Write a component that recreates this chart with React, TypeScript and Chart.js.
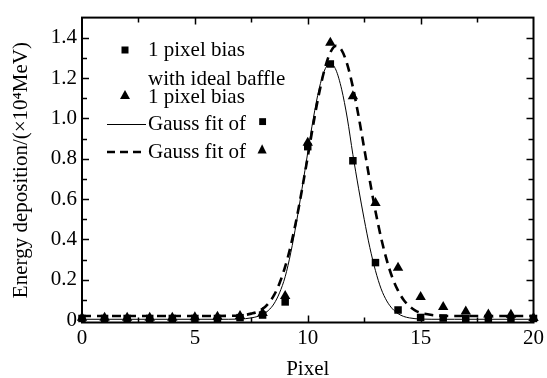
import React, { useEffect, useRef } from "react";
import { Chart, registerables } from "chart.js";

Chart.register(...registerables);

// ---- data ----
const pixels = [0, 1, 2, 3, 4, 5, 6, 7, 8, 9, 10, 11, 12, 13, 14, 15, 16, 17, 18, 19, 20];
const squareValues = [0.008, 0.008, 0.008, 0.008, 0.008, 0.008, 0.008, 0.012, 0.025, 0.09, 0.86, 1.27, 0.79, 0.285, 0.05, 0.013, 0.01, 0.008, 0.006, 0.006, 0.008];
const triangleValues = [0.012, 0.012, 0.012, 0.012, 0.012, 0.014, 0.016, 0.02, 0.035, 0.12, 0.88, 1.375, 1.11, 0.58, 0.26, 0.115, 0.065, 0.042, 0.028, 0.026, 0.01];

const fitX = [0, 6, 6.5, 7, 7.25, 7.5, 7.75, 8, 8.25, 8.5, 8.75, 9, 9.25, 9.5, 9.75, 10, 10.25, 10.5, 10.75, 11, 11.25, 11.5, 11.75, 12, 12.25, 12.5, 12.75, 13, 13.25, 13.5, 13.75, 14, 14.25, 14.5, 14.75, 15, 15.5, 16, 16.5, 20];
const fitSquare = [0.004, 0.004, 0.004, 0.005, 0.007, 0.011, 0.017, 0.027, 0.047, 0.08, 0.135, 0.215, 0.335, 0.485, 0.654, 0.831, 1.002, 1.145, 1.24, 1.274, 1.24, 1.145, 1.002, 0.82, 0.654, 0.5, 0.36, 0.245, 0.155, 0.095, 0.056, 0.032, 0.018, 0.011, 0.007, 0.005, 0.004, 0.004, 0.004, 0.004];
const fitTriangle = [0.02, 0.02, 0.021, 0.023, 0.026, 0.032, 0.04, 0.056, 0.082, 0.122, 0.183, 0.265, 0.37, 0.5, 0.65, 0.81, 0.974, 1.123, 1.245, 1.327, 1.36, 1.339, 1.268, 1.155, 1.012, 0.852, 0.691, 0.54, 0.407, 0.297, 0.21, 0.146, 0.1, 0.069, 0.048, 0.036, 0.025, 0.021, 0.02, 0.02];

const xTicks = [0, 5, 10, 15, 20];
const xMinorTicks = [2.5, 7.5, 12.5, 17.5];
const yTicks = [0, 0.2, 0.4, 0.6, 0.8, 1.0, 1.2, 1.4];
const yMinorTicks = [0.1, 0.3, 0.5, 0.7, 0.9, 1.1, 1.3];

const xTitle = "Pixel";
const yTitle = "Energy deposition/(×10⁴MeV)";
const legendSquareLines = ["1 pixel bias", "with ideal baffle"];
const legendTriangle = "1 pixel bias";
const legendFitText = "Gauss fit of";
const legendSquareSymbol = "■";
const legendTriangleSymbol = "▲";

const FONT = '"Liberation Serif", "Times New Roman", serif';

const framePlugin = {
  id: "frameTicks",
  beforeDatasetsDraw(chart: any) {
    const { ctx, chartArea, scales } = chart;
    const { left, right, top, bottom } = chartArea;
    ctx.save();
    ctx.strokeStyle = "#000";
    ctx.lineWidth = 2;
    ctx.strokeRect(left, top, right - left, bottom - top);
    ctx.lineWidth = 1.5;
    const drawX = (vals: number[], len: number) => {
      vals.forEach((v) => {
        const px = Math.round(scales.x.getPixelForValue(v)) + 0.5;
        ctx.beginPath();
        ctx.moveTo(px, bottom);
        ctx.lineTo(px, bottom - len);
        ctx.moveTo(px, top);
        ctx.lineTo(px, top + len);
        ctx.stroke();
      });
    };
    const drawY = (vals: number[], len: number) => {
      vals.forEach((v) => {
        const py = Math.round(scales.y.getPixelForValue(v)) + 0.5;
        ctx.beginPath();
        ctx.moveTo(left, py);
        ctx.lineTo(left + len, py);
        ctx.moveTo(right, py);
        ctx.lineTo(right - len, py);
        ctx.stroke();
      });
    };
    drawX(xTicks.slice(1, -1), 7);
    drawX(xMinorTicks, 5);
    drawY(yTicks.slice(1), 7);
    drawY(yMinorTicks, 5);
    ctx.restore();
  },
};

const legendPlugin = {
  id: "customLegend",
  afterDraw(chart: any) {
    const { ctx } = chart;
    ctx.save();
    ctx.fillStyle = "#000";
    ctx.strokeStyle = "#000";
    ctx.font = `21px ${FONT}`;
    ctx.textBaseline = "middle";
    ctx.textAlign = "left";
    const tx = 148;
    // row 1: square marker
    ctx.fillRect(121.5, 46.5, 7, 7);
    ctx.fillText(legendSquareLines[0], tx, 50);
    ctx.fillText(legendSquareLines[1], tx, 79);
    // row 3: triangle marker
    ctx.beginPath();
    ctx.moveTo(125, 90);
    ctx.lineTo(130, 99);
    ctx.lineTo(120, 99);
    ctx.closePath();
    ctx.fill();
    ctx.fillText(legendTriangle, tx, 97);
    // row 4: solid line
    ctx.lineWidth = 1;
    ctx.beginPath();
    ctx.moveTo(107, 124.5);
    ctx.lineTo(146, 124.5);
    ctx.stroke();
    ctx.fillText(legendFitText, tx, 124);
    ctx.textAlign = "center";
    ctx.font = `9px "DejaVu Sans", sans-serif`;
    ctx.fillText(legendSquareSymbol, 262.5, 122);
    // row 5: dashed line
    ctx.textAlign = "left";
    ctx.font = `21px ${FONT}`;
    ctx.lineWidth = 2.5;
    ctx.setLineDash([8, 5]);
    ctx.beginPath();
    ctx.moveTo(107, 152);
    ctx.lineTo(146, 152);
    ctx.stroke();
    ctx.setLineDash([]);
    ctx.fillText(legendFitText, tx, 152);
    ctx.textAlign = "center";
    ctx.font = `12px "DejaVu Sans", sans-serif`;
    ctx.fillText(legendTriangleSymbol, 262, 149);
    ctx.restore();
  },
};

export default function App() {
  const canvasRef = useRef<HTMLCanvasElement | null>(null);

  useEffect(() => {
    document.body.style.margin = "0";
    const canvas = canvasRef.current;
    if (!canvas) return;
    const chart = new Chart(canvas, {
      type: "scatter",
      data: {
        datasets: [
          {
            label: "Gauss fit of ■",
            data: fitX.map((x, i) => ({ x, y: fitSquare[i] })),
            showLine: true,
            borderColor: "#000",
            borderWidth: 1,
            pointRadius: 0,
            cubicInterpolationMode: "monotone",
            clip: false,
          } as any,
          {
            label: "Gauss fit of ▲",
            data: fitX.map((x, i) => ({ x, y: fitTriangle[i] })),
            showLine: true,
            borderColor: "#000",
            borderWidth: 2.6,
            borderDash: [9, 6],
            pointRadius: 0,
            cubicInterpolationMode: "monotone",
            clip: false,
          } as any,
          {
            label: "1 pixel bias with ideal baffle",
            data: pixels.map((x, i) => ({ x, y: squareValues[i] })),
            pointStyle: "rect",
            pointRadius: 5.3,
            backgroundColor: "#000",
            borderColor: "#000",
            borderWidth: 0,
            showLine: false,
            clip: false,
          } as any,
          {
            label: "1 pixel bias",
            data: pixels.map((x, i) => ({ x, y: triangleValues[i] })),
            pointStyle: "triangle",
            pointRadius: 6,
            backgroundColor: "#000",
            borderColor: "#000",
            borderWidth: 0,
            showLine: false,
            clip: false,
          } as any,
        ],
      },
      options: {
        animation: false,
        responsive: false,
        maintainAspectRatio: false,
        layout: { padding: { left: 0, right: 13, top: 13, bottom: 0 } },
        plugins: {
          legend: { display: false },
          tooltip: { enabled: false },
        },
        scales: {
          x: {
            type: "linear",
            min: 0,
            max: 20,
            grid: { display: false, drawTicks: false },
            border: { display: false },
            afterBuildTicks: (scale: any) => {
              scale.ticks = xTicks.map((v) => ({ value: v }));
            },
            afterFit: (scale: any) => {
              scale.height = 55.5;
            },
            ticks: {
              color: "#000",
              padding: 3,
              font: { family: FONT, size: 21 },
              maxRotation: 0,
              autoSkip: false,
            },
            title: {
              display: true,
              text: xTitle,
              color: "#000",
              font: { family: FONT, size: 21, lineHeight: 0.85 },
              padding: { top: 0, bottom: 0 },
            },
          },
          y: {
            type: "linear",
            min: -0.012,
            max: 1.5,
            grid: { display: false, drawTicks: false },
            border: { display: false },
            afterBuildTicks: (scale: any) => {
              scale.ticks = yTicks.map((v) => ({ value: v }));
            },
            afterFit: (scale: any) => {
              scale.width = 82;
            },
            ticks: {
              color: "#000",
              padding: 5,
              font: { family: FONT, size: 21 },
              autoSkip: false,
              callback: (v: any) => (Number(v) === 0 ? "0" : Number(v).toFixed(1)),
            },
            title: {
              display: true,
              text: yTitle,
              color: "#000",
              font: { family: FONT, size: 21 },
              padding: { top: 9, bottom: 0 },
            },
          },
        },
      },
      plugins: [framePlugin, legendPlugin],
    });
    return () => chart.destroy();
  }, []);

  return (
    <div style={{ width: 547, height: 378, background: "#fff" }}>
      <canvas ref={canvasRef} width={547} height={378} style={{ display: "block" }} />
    </div>
  );
}
